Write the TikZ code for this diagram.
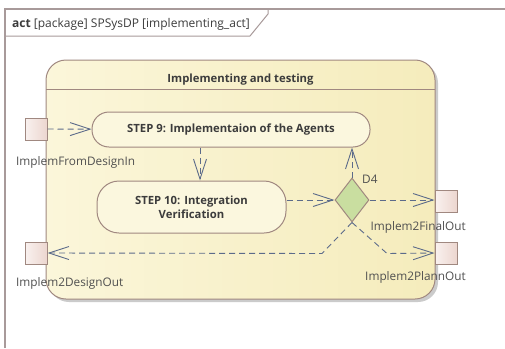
\documentclass[tikz,border=0pt]{standalone}
\usepackage{fontspec}
\setmainfont{Open Sans}
\usetikzlibrary{arrows.meta,shapes.geometric,shadows}

\definecolor{framecol}{HTML}{A89A9A}
\definecolor{edgecol}{HTML}{A08880}
\definecolor{regionL}{HTML}{FBF6DA}
\definecolor{regionR}{HTML}{F5ECBC}
\definecolor{actfill}{HTML}{FBF7DE}
\definecolor{decfill}{HTML}{C9DEA0}
\definecolor{pinL}{HTML}{F9F1EF}
\definecolor{pinR}{HTML}{ECD6CF}
\definecolor{flowcol}{HTML}{5C6B8A}
\definecolor{txtcol}{HTML}{3C3C3C}
\definecolor{lblcol}{HTML}{505050}

\tikzset{
  region/.style={draw=edgecol, line width=1pt, left color=regionL, right color=regionR,
    rounded corners=20pt, drop shadow={shadow xshift=3pt, shadow yshift=-3pt, fill=black!25, opacity=0.8}},
  action/.style={draw=edgecol, line width=1pt, fill=actfill, rounded corners=17pt,
    font=\bfseries\fontsize{11.3}{14}\selectfont, text=txtcol, align=center, inner sep=0pt},
  decision/.style={draw=edgecol, line width=1pt, fill=decfill, diamond, inner sep=0pt,
    minimum width=34pt, minimum height=44pt},
  pinbox/.style={draw=edgecol, line width=1pt, left color=pinL, right color=pinR,
    minimum width=22pt, minimum height=22pt, inner sep=0pt},
  pinlabel/.style={font=\fontsize{11.8}{14}\selectfont, text=lblcol, inner sep=0pt},
  flow/.style={draw=flowcol, line width=0.9pt, dash pattern=on 6pt off 4pt,
    -{Straight Barb[length=20pt, width=13pt, line width=0.9pt]}},
}

\begin{document}
\begin{tikzpicture}[x=1pt, y=-1pt]
\useasboundingbox[fill=white] (0,0) rectangle (505,348);

% diagram frame and its name tab
\draw[framecol, line width=1.6pt] (5,348) -- (5,9) -- (505,9);
\draw[framecol, line width=1pt] (5,36) -- (250,36) -- (268,14) -- (268,9);
\node[anchor=base west, inner sep=0pt, text=txtcol, font=\fontsize{12}{14}\selectfont]
  (framename) at (12,27) {\textbf{act} [package] SPSysDP [implementing\_act]};

% activity partition
\path[region] (46,60) rectangle (435,299);
\draw[edgecol, line width=1pt] (46,89) -- (435,89);
\node[font=\bfseries\fontsize{11.3}{14}\selectfont, text=txtcol] (title) at (240.5,80)
  {Implementing and testing};

% actions and decision
\node[action, minimum width=278pt, minimum height=35pt] (s9) at (231,129.5)
  {STEP 9: Implementaion of the Agents};
\node[action, minimum width=189pt, minimum height=52pt, rounded corners=22pt] (s10) at (191.5,207)
  {STEP 10: Integration\\Verification};
\node[decision] (d4) at (352,200) {};
\node[pinlabel, anchor=west] (d4lbl) at (362,179) {D4};

% parameter pins
\node[pinbox] (pin) at (36,129) {};
\node[pinbox] (dout) at (36,253) {};
\node[pinbox] (fout) at (446,201) {};
\node[pinbox] (pout) at (446,253.5) {};
\node[pinlabel, anchor=west] (pinlbl) at (16,162) {ImplemFromDesignIn};
\node[pinlabel, anchor=west] (doutlbl) at (16,283) {Implem2DesignOut};
\node[pinlabel, anchor=east] (foutlbl) at (466,227) {Implem2FinalOut};
\node[pinlabel, anchor=east] (poutlbl) at (466,277) {Implem2PlannOut};

% object and control flows
\draw[flow] (pin) -- (s9);
\draw[flow] ([xshift=8.5pt]s10.north |- s9.south) -- ([xshift=8.5pt]s10.north);
\draw[flow] (s10.east |- d4) -- (d4.west);
\draw[flow] (d4.north) -- (d4.north |- s9.south);
\draw[flow] (d4.east) -- (fout.west |- d4);
\draw[flow] (d4.south) -- ++(-30,31) -- (dout.east |- 0,253);
\draw[flow] (d4.south) -- ++(35,31) -- (pout.west |- 0,253);
\end{tikzpicture}
\end{document}
